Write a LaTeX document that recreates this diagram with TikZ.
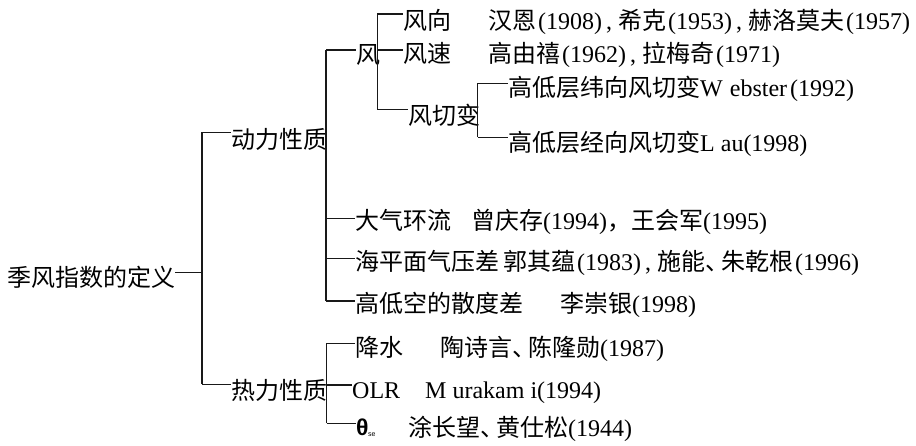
\documentclass[tikz,border=0pt]{standalone}
\usepackage{fontspec}
\setmainfont{Liberation Serif}
\newfontfamily\cjfont{Noto Sans CJK SC}
\newfontfamily\gkfont{Liberation Sans}
\newcommand\C[1]{{\cjfont #1}}
\newcommand\dun{{\cjfont 、}\kern-8pt}
\newcommand\pk{\kern2pt}
\begin{document}
\begin{tikzpicture}[x=1pt,y=-1pt,
  txt/.style={anchor=base west, inner sep=0pt, font=\fontsize{24}{28}\selectfont},
  conn/.style={line width=1.2pt, draw=black!90}]
\useasboundingbox (0,0) rectangle (916,445);
% nodes
\node[txt] (root) at (7,286) {\C{季风指数的定义}};
\node[txt] (dl) at (231,148) {\C{动力性质}};
\node[txt] (rl) at (231,399) {\C{热力性质}};
\node[txt] (feng) at (356,63) {\C{风}};
\node[txt] (fx) at (403,29) {\C{风向}};
\node[txt] (fxr) at (488,29) {\C{汉恩}\pk(1908)\,, \C{希克}\pk(1953)\,, \C{赫洛莫夫}\pk(1957)};
\node[txt] (fs) at (403,62) {\C{风速}};
\node[txt] (fsr) at (488,62) {\C{高由禧}\pk(1962)\,, \C{拉梅奇}\pk(1971)};
\node[txt] (fq) at (408,124) {\C{风切变}};
\node[txt] (wq1) at (508,96.5) {\C{高低层纬向风切变}W\kern1pt{} ebster\kern3pt(1992)};
\node[txt] (wq2) at (508,151.5) {\C{高低层经向风切变}L au(1998)};
\node[txt] (dq) at (355,229) {\C{大气环流}};
\node[txt] (dqr) at (471,229) {\C{曾庆存}(1994)\C{，王会军}(1995)};
\node[txt] (hp) at (355,270) {\C{海平面气压差}};
\node[txt] (hpr) at (503,270) {\C{郭其蕴}\pk(1983)\,, \C{施能}\dun\C{朱乾根}\pk(1996)};
\node[txt] (gd) at (355,312) {\C{高低空的散度差}};
\node[txt] (gdr) at (560,312) {\C{李崇银}(1998)};
\node[txt] (js) at (355,356.5) {\C{降水}};
\node[txt] (jsr) at (440,356.5) {\C{陶诗言}\dun\C{陈隆勋}(1987)};
\node[txt] (olr) at (352,398) {OLR};
\node[txt] (olrr) at (425,398) {M urakam i(1994)};
\node[txt] (th) at (356,435) {{\gkfont\bfseries\fontsize{23}{26}\selectfont θ}\kern-0.5pt\raisebox{-1pt}{\gkfont\fontsize{7}{8}\selectfont se}};
\node[txt] (thr) at (408,436.5) {\C{涂长望}\dun\C{黄仕松}(1944)};
% bus 0
\coordinate (b0t) at (202,132.3);
\coordinate (b0m) at (202,272.7);
\coordinate (b0b) at (202,384.3);
\draw[conn] (b0t) -- (b0b);
\draw[conn] (root.east |- b0m) -- (b0m);
\draw[conn] (b0t) -- (b0t -| dl.west);
\draw[conn] (b0b) -- (b0b -| rl.west);
% bus 1
\coordinate (b1a) at (326,50);
\coordinate (b1b) at (326,218.3);
\coordinate (b1c) at (326,258.3);
\coordinate (b1d) at (326,301);
\draw[conn] (b1a) -- (b1d);
\draw[conn] (b1a) -- (b1a -| feng.west);
\draw[conn] (b1b) -- (b1b -| dq.west);
\draw[conn] (b1c) -- (b1c -| hp.west);
\draw[conn] (b1d) -- (b1d -| gd.west);
% bus 2
\coordinate (b2a) at (377.3,14);
\coordinate (b2b) at (377.3,50);
\coordinate (b2c) at (377.3,109.3);
\draw[conn] (b2a) -- (b2c);
\draw[conn] (b2a) -- (b2a -| fx.west);
\draw[conn] (b2b) -- (b2b -| fs.west);
\draw[conn] (b2c) -- (b2c -| fq.west);
% bus 3
\coordinate (b3a) at (477.7,83.3);
\coordinate (b3b) at (477.7,137.3);
\draw[conn] (b3a) -- (b3b);
\draw[conn] (b3a) -- (b3a -| wq1.west);
\draw[conn] (b3b) -- (b3b -| wq2.west);
% bus 4
\coordinate (b4a) at (326.7,343.3);
\coordinate (b4b) at (326.7,385);
\coordinate (b4c) at (326.7,423.3);
\draw[conn] (b4a) -- (b4c);
\draw[conn] (rl.east |- b4b) -- (b4b -| olr.west);
\draw[conn] (b4a) -- (b4a -| js.west);
\draw[conn] (b4c) -- (b4c -| th.west);
\end{tikzpicture}
\end{document}
